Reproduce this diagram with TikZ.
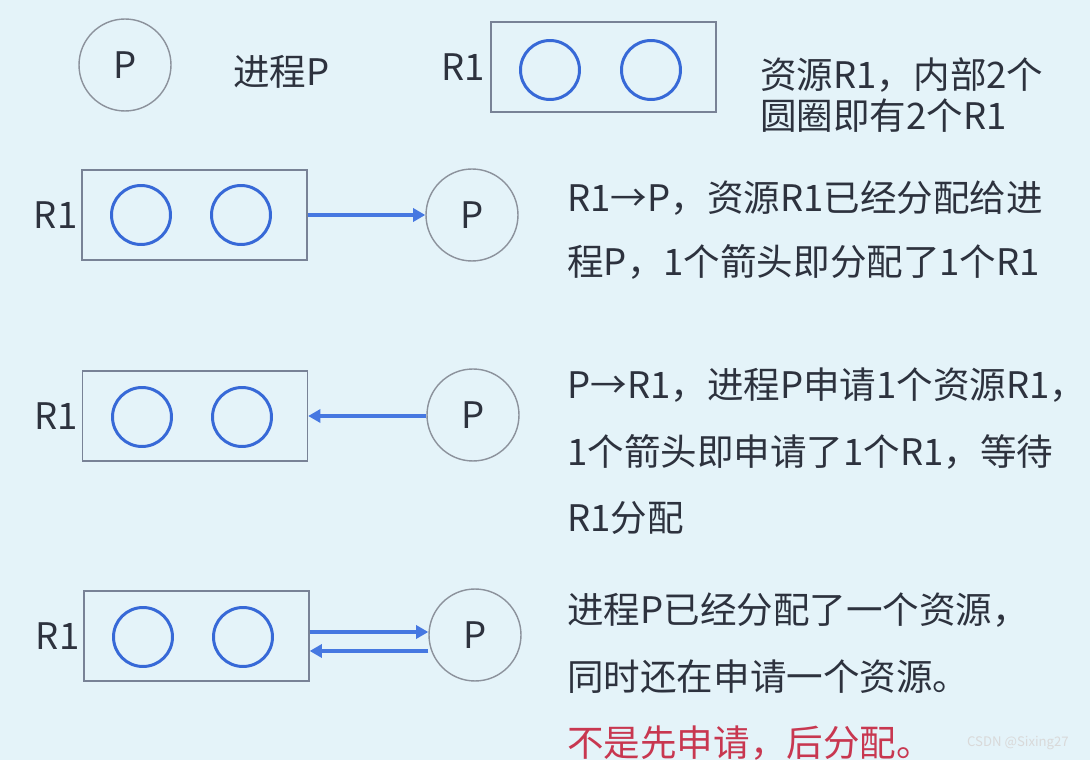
\documentclass[tikz,border=0pt]{standalone}
\usepackage{fontspec}
\setmainfont{Noto Sans CJK SC}
\usetikzlibrary{arrows.meta,positioning}

\definecolor{slidebg}{RGB}{228,243,249}
\definecolor{inkgray}{RGB}{45,50,62}
\definecolor{procgray}{RGB}{140,146,156}
\definecolor{boxgray}{RGB}{120,130,150}
\definecolor{unitblue}{RGB}{55,105,215}
\definecolor{arrowblue}{RGB}{70,120,225}
\definecolor{notered}{RGB}{200,55,80}

\begin{document}
\begin{tikzpicture}[x=0.02cm, y=-0.02cm, font=\fontsize{20.8}{25}\selectfont,
      proc/.style={circle, draw=procgray, line width=0.8pt,
                   minimum size=1.84cm, inner sep=0pt, text=inkgray},
      res/.style={rectangle, draw=boxgray, line width=0.8pt,
                  minimum width=4.5cm, minimum height=1.8cm, inner sep=0pt},
      unit/.style={circle, draw=unitblue, line width=1.7pt,
                   minimum size=1.18cm, inner sep=0pt},
      lbl/.style={text=inkgray, inner sep=0pt},
      note/.style={text=inkgray, anchor=west, inner sep=0pt},
      assign/.style={-{Triangle[length=7pt, width=7.5pt]}, arrowblue, line width=2pt},
    ]

    % Background
    \fill[slidebg] (0,0) rectangle (1090,760);
    \useasboundingbox (0,0) rectangle (1090,760);

    % Legend: process and resource
    \node[proc] (p0) at (125,65) {P};
    \node[lbl, anchor=west] (p0txt) at (233,72) {进程P};
    \node[res] (r0) at (603.5,67) {};
    \node[lbl, anchor=east] (r0lbl) at ([xshift=-3pt]r0.west) {R1};
    \node[unit] (u01) at (550,70) {};
    \node[unit] (u02) at (651,70) {};
    \node[note] (n01) at (760,75) {资源R1，内部2个};
    \node[note] (n02) at (760,116) {圆圈即有2个R1};

    % Row 1: R1 -> P
    \node[res] (r1) at (194.5,215) {};
    \node[lbl, anchor=east] (r1lbl) at ([xshift=-2pt]r1.west) {R1};
    \node[unit] (u11) at (141,215) {};
    \node[unit] (u12) at (241,215) {};
    \node[proc] (p1) at (472,215) {P};
    \draw[assign] (r1) -- (p1);
    \node[note] (n11) at (567,198) {R1→P，资源R1已经分配给进};
    \node[note] (n12) at (567,262) {程P，1个箭头即分配了1个R1};

    % Row 2: P -> R1
    \node[res] (r2) at (195,416) {};
    \node[lbl, anchor=east] (r2lbl) at ([xshift=-2pt]r2.west) {R1};
    \node[unit] (u21) at (142,417) {};
    \node[unit] (u22) at (242,417) {};
    \node[proc] (p2) at (473,415) {P};
    \draw[assign] (p2.west |- r2) -- (r2);
    \node[note] (n21) at (567,385) {P→R1，进程P申请1个资源R1，};
    \node[note] (n22) at (567,452) {1个箭头即申请了1个R1，等待};
    \node[note] (n23) at (567,518) {R1分配};

    % Row 3: both directions
    \node[res] (r3) at (196.5,636) {};
    \node[lbl, anchor=east] (r3lbl) at ([xshift=-2pt]r3.west) {R1};
    \node[unit] (u31) at (143,637) {};
    \node[unit] (u32) at (243,637) {};
    \node[proc] (p3) at (475,635) {P};
    \draw[assign] ([yshift=0.08cm]r3.east) -- ([yshift=0.08cm]r3.east -| p3.west);
    \draw[assign] ([yshift=-0.3cm]r3.east -| p3.west) -- ([yshift=-0.3cm]r3.east);
    \node[note] (n31) at (567,610) {进程P已经分配了一个资源，};
    \node[note] (n32) at (567,677) {同时还在申请一个资源。};
    \node[note, text=notered] (n33) at (567,743) {不是先申请，后分配。};

    % Watermark
    \node[anchor=east, text=white!70!gray, font=\fontsize{7.5}{9}\selectfont] (wm) at (1075,743) {CSDN @Sixing27};

  \end{tikzpicture}
\end{document}
